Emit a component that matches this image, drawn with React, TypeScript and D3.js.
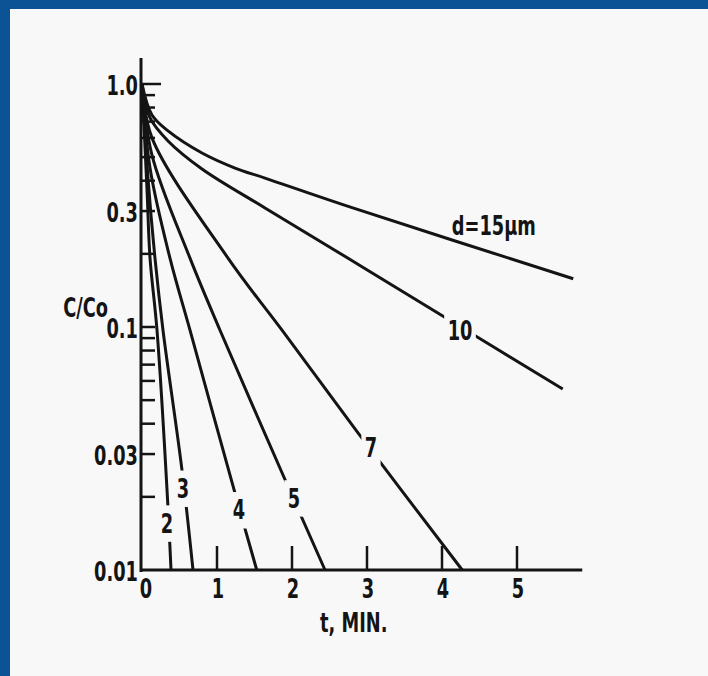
import React, { useEffect, useRef } from 'react';
import * as d3 from 'd3';

// particle diameter (um) of each curve
const diameters = [2, 3, 4, 5, 7, 10, 15];

// t in minutes, C/Co
const d2Time = [0, 0.067, 0.107, 0.2, 0.347, 0.387];
const d2Conc = [1.0, 0.366, 0.192, 0.097, 0.018, 0.01];
const d3Time = [0, 0.08, 0.173, 0.28, 0.533, 0.68];
const d3Conc = [1.0, 0.41, 0.192, 0.097, 0.0258, 0.01];
const d4Time = [0, 0.107, 0.373, 0.64, 1.24, 1.53];
const d4Conc = [1.0, 0.451, 0.192, 0.097, 0.0207, 0.01];
const d5Time = [0, 0.133, 0.64, 1.04, 1.88, 2.44];
const d5Conc = [1.0, 0.51, 0.192, 0.097, 0.0246, 0.01];
const d7Time = [0, 0.133, 1.147, 1.867, 2.87, 4.27];
const d7Conc = [1.0, 0.6, 0.192, 0.097, 0.037, 0.01];
const d10Time = [0, 0.107, 0.347, 0.8, 1.64, 2.77, 4.01, 5.61];
const d10Conc = [1.0, 0.725, 0.583, 0.447, 0.309, 0.19, 0.111, 0.0556];
const d15Time = [0, 0.133, 0.347, 0.8, 1.24, 1.64, 2.77, 5.75];
const d15Conc = [1.0, 0.745, 0.641, 0.52, 0.451, 0.41, 0.312, 0.158];

// curve labels, placed in data units
const labelText = ['2', '3', '4', '5', '7', '10', 'd=15\u03bcm'];
const labelTime = [0.333, 0.547, 1.293, 2.027, 3.053, 4.24, 4.69];
const labelConc = [0.0156, 0.0217, 0.0177, 0.0198, 0.0321, 0.0972, 0.263];

const xTicks = [0, 1, 2, 3, 4, 5];
const yLabels = [1.0, 0.3, 0.1, 0.03, 0.01];
const yLabelText = ['1.0', '0.3', '0.1', '0.03', '0.01'];
const yMinor = [0.02, 0.03, 0.04, 0.05, 0.06, 0.07, 0.08, 0.09, 0.1, 0.2, 0.3, 0.4, 0.5, 0.6, 0.7, 0.8, 0.9];

const times = [d2Time, d3Time, d4Time, d5Time, d7Time, d10Time, d15Time];
const concs = [d2Conc, d3Conc, d4Conc, d5Conc, d7Conc, d10Conc, d15Conc];

const BG = '#f8f8f8';
const BLUE = '#0b5394';
const INK = '#141414';
const FONT = "'Liberation Sans Narrow','DejaVu Sans Condensed','Liberation Sans',sans-serif";

export default function App() {
  const ref = useRef<SVGSVGElement>(null);

  useEffect(() => {
    const svg = d3.select(ref.current);
    svg.selectAll('*').remove();

    const x = d3.scaleLinear().domain([0, 5]).range([142, 517]);
    const y = d3.scaleLog().domain([0.01, 1]).range([570, 84]);

    svg.append('rect').attr('width', 708).attr('height', 676).attr('fill', BG);
    svg.append('rect').attr('width', 708).attr('height', 9).attr('fill', BLUE);
    svg.append('rect').attr('width', 10).attr('height', 676).attr('fill', BLUE);

    const g = svg.append('g');

    // curves
    const line = d3.line<[number, number]>()
      .x(d => x(d[0]))
      .y(d => y(d[1]))
      .curve(d3.curveCatmullRom.alpha(0.5));

    diameters.forEach((dia, i) => {
      const pts = times[i].map((t, j) => [t, concs[i][j]] as [number, number]);
      g.append('path')
        .attr('d', line(pts))
        .attr('fill', 'none')
        .attr('stroke', INK)
        .attr('stroke-width', 3);
    });

    // axes
    g.append('line')
      .attr('x1', x(0) - 1).attr('x2', x(0) - 1)
      .attr('y1', y(1.28)).attr('y2', y(0.01) + 2)
      .attr('stroke', INK).attr('stroke-width', 3);
    g.append('line')
      .attr('x1', x(0) - 2).attr('x2', x(5.87))
      .attr('y1', y(0.01)).attr('y2', y(0.01))
      .attr('stroke', INK).attr('stroke-width', 3);

    g.selectAll('.xt')
      .data(xTicks.slice(1))
      .join('line')
      .attr('x1', d => x(d)).attr('x2', d => x(d))
      .attr('y1', y(0.01)).attr('y2', y(0.01) - 24)
      .attr('stroke', INK).attr('stroke-width', 2.5);

    g.selectAll('.ym')
      .data(yMinor)
      .join('line')
      .attr('x1', x(0)).attr('x2', x(0) + 13)
      .attr('y1', d => y(d)).attr('y2', d => y(d))
      .attr('stroke', INK).attr('stroke-width', 2.5);
    g.append('line')
      .attr('x1', x(0)).attr('x2', x(0) + 19)
      .attr('y1', y(1)).attr('y2', y(1))
      .attr('stroke', INK).attr('stroke-width', 2.5);

    // condensed, tall lettering like the scanned original
    const txt = (s: string, px: number, py: number, anchor: string) => {
      const holder = g.append('g').attr('transform', `translate(${px},${py}) scale(0.86,1.16)`);
      const t = holder.append('text')
        .attr('text-anchor', anchor)
        .attr('dy', '0.36em')
        .attr('font-family', FONT)
        .attr('font-weight', 'bold')
        .attr('font-size', 23)
        .attr('fill', INK)
        .text(s);
      return { holder, t };
    };

    xTicks.forEach(t => txt(String(t), x(t) + (t === 0 ? 4 : 1), 588, 'middle'));
    yLabels.forEach((v, i) => txt(yLabelText[i], x(0) - 4, y(v) + 1, 'end'));
    txt('C/Co', 108, 307, 'end');
    txt('t, MIN.', 320, 622, 'start');

    // curve labels, with a gap cut in the line behind them
    labelText.forEach((s, i) => {
      const { holder, t } = txt(s, x(labelTime[i]), y(labelConc[i]), 'middle');
      if (i < labelText.length - 1) {
        const b = (t.node() as SVGTextElement).getBBox();
        holder.insert('rect', 'text')
          .attr('x', b.x - 4).attr('y', b.y - 2)
          .attr('width', b.width + 8).attr('height', b.height + 4)
          .attr('fill', BG);
      }
    });
  }, []);

  return (
    <div style={{ position: 'absolute', left: 0, top: 0 }}>
      <svg ref={ref} width={708} height={676} style={{ display: 'block' }} />
    </div>
  );
}
